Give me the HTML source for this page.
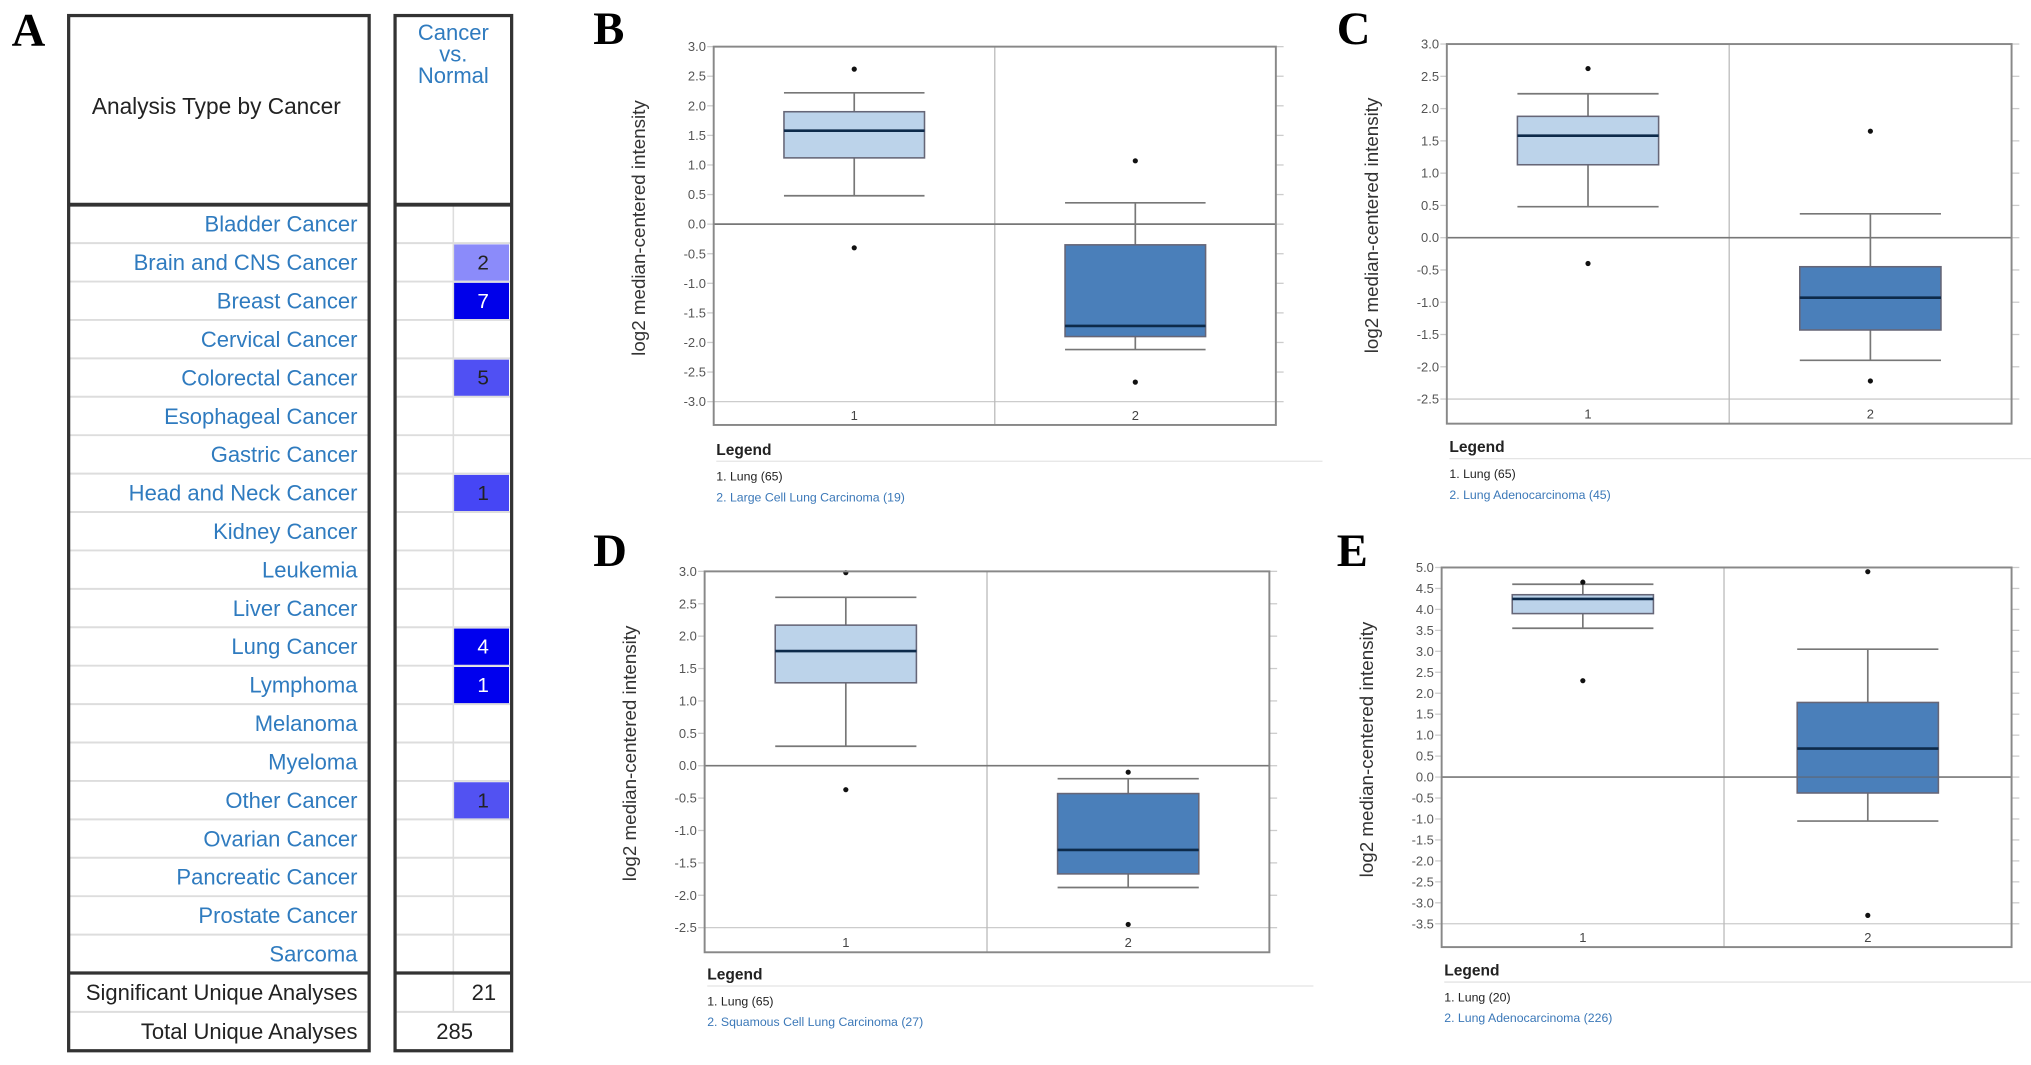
<!DOCTYPE html>
<html><head><meta charset="utf-8">
<style>
html,body{margin:0;padding:0;background:#fff;}
svg{display:block;}
text{font-family:"Liberation Sans",sans-serif;}
</style></head>
<body>
<svg id="fig" width="2031" height="1065" viewBox="0 0 1568 822" preserveAspectRatio="none" xmlns="http://www.w3.org/2000/svg">
<g id="panelA"></g>
<g id="charts"></g>
</svg>
<script>
// ---- Panel A data ----
const cancerTypes = ["Bladder Cancer","Brain and CNS Cancer","Breast Cancer","Cervical Cancer","Colorectal Cancer","Esophageal Cancer","Gastric Cancer","Head and Neck Cancer","Kidney Cancer","Leukemia","Liver Cancer","Lung Cancer","Lymphoma","Melanoma","Myeloma","Other Cancer","Ovarian Cancer","Pancreatic Cancer","Prostate Cancer","Sarcoma"];
const overCounts = [0,2,7,0,5,0,0,1,0,0,0,4,1,0,0,1,0,0,0,0];
const cellShades = ["","#8b8bfa","#0000ea","","#5050f3","","","#4646f5","","","","#0000ee","#0000ee","","","#5252f2","","","",""];
const summaryLabels = ["Significant Unique Analyses","Total Unique Analyses"];
const summaryValues = ["21","285"];

// ---- Box plot data (per panel) ----
const panelLetters = ["B","C","D","E"];
const yTicksB = [3.0,2.5,2.0,1.5,1.0,0.5,0.0,-0.5,-1.0,-1.5,-2.0,-2.5,-3.0];
const yTicksC = [3.0,2.5,2.0,1.5,1.0,0.5,0.0,-0.5,-1.0,-1.5,-2.0,-2.5];
const yTicksD = [3.0,2.5,2.0,1.5,1.0,0.5,0.0,-0.5,-1.0,-1.5,-2.0,-2.5];
const yTicksE = [5.0,4.5,4.0,3.5,3.0,2.5,2.0,1.5,1.0,0.5,0.0,-0.5,-1.0,-1.5,-2.0,-2.5,-3.0,-3.5];
// [whiskerHigh, q3, median, q1, whiskerLow, outlierHigh, outlierLow]
const boxesB = [[2.22,1.9,1.58,1.12,0.48,2.62,-0.4],[0.36,-0.35,-1.72,-1.9,-2.12,1.07,-2.67]];
const boxesC = [[2.23,1.88,1.58,1.13,0.48,2.62,-0.4],[0.37,-0.45,-0.93,-1.43,-1.9,1.65,-2.22]];
const boxesD = [[2.6,2.17,1.77,1.28,0.3,2.98,-0.37],[-0.2,-0.43,-1.3,-1.67,-1.88,-0.1,-2.45]];
const boxesE = [[4.6,4.35,4.25,3.9,3.55,4.65,2.3],[3.05,1.78,0.68,-0.38,-1.05,4.9,-3.3]];
const legend1 = ["1. Lung (65)","1. Lung (65)","1. Lung (65)","1. Lung (20)"];
const legend2 = ["2. Large Cell Lung Carcinoma (19)","2. Lung Adenocarcinoma (45)","2. Squamous Cell Lung Carcinoma (27)","2. Lung Adenocarcinoma (226)"];

const NS="http://www.w3.org/2000/svg";
function mk(parent,tag,attrs,txt){const e=document.createElementNS(NS,tag);for(const k in attrs)e.setAttribute(k,attrs[k]);if(txt!==undefined)e.textContent=txt;parent.appendChild(e);return e;}
const SERIF="font-family:'Liberation Serif',serif;font-weight:bold;font-size:36px";

// ---- Panel A ----
const A=document.getElementById("panelA");
let t=mk(A,"text",{x:9,y:35,style:SERIF},"A");


const rowTop=158,rowH=29.65;
cancerTypes.forEach((name,i)=>{
  const y=rowTop+i*rowH;
  if(i>0){mk(A,"line",{x1:54,x2:284,y1:y,y2:y,stroke:"#ddd","stroke-width":1.5});mk(A,"line",{x1:306,x2:394,y1:y,y2:y,stroke:"#ddd","stroke-width":1.5});}
  const c=overCounts[i];
  if(c>0){
    const r=mk(A,"rect",{x:350,y:y+1,width:43,height:rowH-1.5,fill:cellShades[i]});
    
    
    const dark=(cellShades[i]==="#0000ee"||cellShades[i]==="#0000ea");
    mk(A,"text",{x:373,y:y+rowH/2+5.5,"font-size":16,"text-anchor":"middle",fill:dark?"#fff":"#222"},String(c));
  }
  const tx=mk(A,"text",{x:276,y:y+rowH/2+6,"font-size":17,"text-anchor":"end",fill:"#2f7bbf"},name);
  
  
});
mk(A,"line",{x1:350,x2:350,y1:rowTop,y2:781,stroke:"#ddd","stroke-width":1.2});
const endY=rowTop+20*rowH;
summaryLabels.forEach((s,i)=>{
  const y=endY+i*30;
  if(i===0){
    mk(A,"line",{x1:53,x2:285,y1:y,y2:y,stroke:"#333","stroke-width":2.5});
    mk(A,"line",{x1:305,x2:395,y1:y,y2:y,stroke:"#333","stroke-width":2.5});
  } else {
    mk(A,"line",{x1:54,x2:284,y1:y,y2:y,stroke:"#ddd","stroke-width":1.5});
    mk(A,"line",{x1:306,x2:394,y1:y,y2:y,stroke:"#ddd","stroke-width":1.5});
  }
  mk(A,"text",{x:276,y:y+21,"font-size":17,"text-anchor":"end",fill:"#222"},s);
  mk(A,"text",{x:i===0?383:351,y:y+21,"font-size":17,"text-anchor":i===0?"end":"middle",fill:"#222"},summaryValues[i]);
});
mk(A,"rect",{x:53,y:12,width:232,height:799,fill:"none",stroke:"#333","stroke-width":2.5});
mk(A,"rect",{x:305,y:12,width:90,height:799,fill:"none",stroke:"#333","stroke-width":2.5});
mk(A,"line",{x1:53,x2:285,y1:158,y2:158,stroke:"#333","stroke-width":3});
mk(A,"line",{x1:305,x2:395,y1:158,y2:158,stroke:"#333","stroke-width":3});
mk(A,"text",{x:167,y:88,"font-size":17.5,"text-anchor":"middle",fill:"#222"},"Analysis Type by Cancer");
["Cancer","vs.","Normal"].forEach((w,i)=>mk(A,"text",{x:350,y:31+i*16.5,"font-size":17,"text-anchor":"middle",fill:"#2f7bbf"},w));

// ---- Box plots ----
const panels=[
 {ticks:yTicksB,boxes:boxesB,L:551,R:985,T:36,B:328,yTop:3.0,yBot:-3.0,yBotPx:310,div:768,lx:458,ly:34,legY:347},
 {ticks:yTicksC,boxes:boxesC,L:1117,R:1553,T:34,B:327,yTop:3.0,yBot:-2.5,yBotPx:308,div:1335,lx:1032,ly:34,legY:345},
 {ticks:yTicksD,boxes:boxesD,L:544,R:980,T:441,B:735,yTop:3.0,yBot:-2.5,yBotPx:716,div:762,lx:458,ly:437,legY:752},
 {ticks:yTicksE,boxes:boxesE,L:1113,R:1553,T:438,B:731,yTop:5.0,yBot:-3.5,yBotPx:713,div:1331,lx:1032,ly:437,legY:749}
];
const C=document.getElementById("charts");
const fills=["#bcd3ea","#4a7fba"];
panels.forEach((p,pi)=>{
  const g=mk(C,"g",{});
  
  
  const yS=v=>p.T+(p.yTop-v)/(p.yTop-p.yBot)*(p.yBotPx-p.T);
  const lab=mk(g,"text",{x:p.lx,y:p.ly,style:SERIF},panelLetters[pi]);
  
  
  p.ticks.forEach(v=>{
    const y=yS(v);
    mk(g,"line",{x1:p.L-5,x2:p.L,y1:y,y2:y,stroke:"#ccc","stroke-width":1});
    mk(g,"line",{x1:p.R,x2:p.R+6,y1:y,y2:y,stroke:"#ccc","stroke-width":1});
    mk(g,"text",{x:p.L-6,y:y+3.5,"font-size":10,"text-anchor":"end",fill:"#555"},v.toFixed(1));
  });
  mk(g,"line",{x1:p.L,x2:p.R,y1:p.yBotPx,y2:p.yBotPx,stroke:"#ccc","stroke-width":1});
  mk(g,"line",{x1:p.div,x2:p.div,y1:p.T,y2:p.B,stroke:"#bbb","stroke-width":1});
  mk(g,"line",{x1:p.L,x2:p.R,y1:yS(0),y2:yS(0),stroke:"#777","stroke-width":1.3});
  const cx=[(p.L+p.div)/2,(p.div+p.R)/2];
  const bw=(p.div-p.L)*0.5;
  p.boxes.forEach((b,bi)=>{
    const x=cx[bi];
    const [wh,q3,md,q1,wl,oh,ol]=b;
    mk(g,"line",{x1:x,x2:x,y1:yS(wh),y2:yS(q3),stroke:"#777","stroke-width":1.3});
    mk(g,"line",{x1:x,x2:x,y1:yS(q1),y2:yS(wl),stroke:"#777","stroke-width":1.3});
    mk(g,"line",{x1:x-bw/2,x2:x+bw/2,y1:yS(wh),y2:yS(wh),stroke:"#777","stroke-width":1.3});
    mk(g,"line",{x1:x-bw/2,x2:x+bw/2,y1:yS(wl),y2:yS(wl),stroke:"#777","stroke-width":1.3});
    const r=mk(g,"rect",{x:x-bw/2,y:yS(q3),width:bw,height:yS(q1)-yS(q3),fill:fills[bi],stroke:"#667","stroke-width":1.2});
    
    
    mk(g,"line",{x1:x-bw/2,x2:x+bw/2,y1:yS(md),y2:yS(md),stroke:"#0d2a4a","stroke-width":2});
    if(bi===1 && yS(0)>yS(q3) && yS(0)<yS(q1)) mk(g,"line",{x1:x-bw/2,x2:x+bw/2,y1:yS(0),y2:yS(0),stroke:"#5a6a80","stroke-width":1});
    mk(g,"circle",{cx:x,cy:yS(oh),r:2,fill:"#111"});
    mk(g,"circle",{cx:x,cy:yS(ol),r:2,fill:"#111"});
    mk(g,"text",{x:x,y:p.B-4,"font-size":10,"text-anchor":"middle",fill:"#444"},String(bi+1));
  });
  mk(g,"rect",{x:p.L,y:p.T,width:p.R-p.L,height:p.B-p.T,fill:"none",stroke:"#888","stroke-width":1.5});
  const ttl=mk(g,"text",{x:0,y:0,"font-size":14.5,"text-anchor":"middle",fill:"#333",transform:`translate(${p.L-53},${(p.T+p.yBotPx)/2+3}) rotate(-90)`},"log2 median-centered intensity");
  
  
  mk(g,"text",{x:p.L+2,y:p.legY+4,"font-size":12,"font-weight":"bold",fill:"#222"},"Legend");
  mk(g,"line",{x1:p.L+2,x2:p.L+470,y1:p.legY+9,y2:p.legY+9,stroke:"#e4e4e4","stroke-width":1});
  const l1=mk(g,"text",{x:p.L+2,y:p.legY+24,"font-size":9.5,fill:"#222"},legend1[pi]);
  
  
  const l2=mk(g,"text",{x:p.L+2,y:p.legY+40,"font-size":9.5,fill:"#3b78b8"},legend2[pi]);
  
  
});
</script>
</body></html>
